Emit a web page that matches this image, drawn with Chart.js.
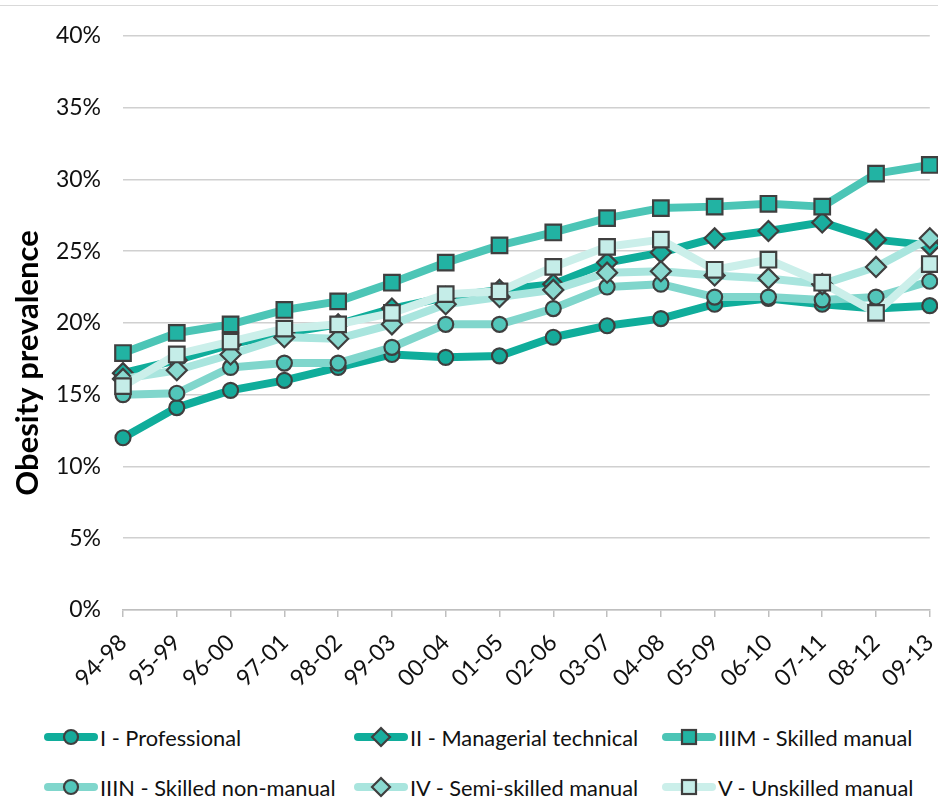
<!DOCTYPE html>
<html>
<head>
<meta charset="utf-8">
<script src="https://cdn.jsdelivr.net/npm/chart.js@4"></script>
<style>
  html, body { margin: 0; padding: 0; background: #fff; }
  #wrap { position: relative; width: 938px; height: 800px; overflow: hidden; }
  #top { position: absolute; left: 0; top: 5px; width: 938px; height: 1px; background: #d9d9d9; }
  #c { position: absolute; left: 0; top: 0; }
  .lg { position: absolute; height: 30px; display: flex; align-items: center; font-family: Lato, sans-serif; font-size: 21.8px; color: #111; white-space: nowrap; }
  .lg svg { margin-right: 2px; }
</style>
</head>
<body>
<div id="wrap">
  <canvas id="c" width="943" height="700"></canvas>
  <div id="top"></div>
  <div id="legend"></div>
</div>
<script>
const categories = ["94-98","95-99","96-00","97-01","98-02","99-03","00-04","01-05","02-06","03-07","04-08","05-09","06-10","07-11","08-12","09-13"];
const seriesNames = ["I - Professional","II - Managerial technical","IIIM - Skilled manual","IIIN - Skilled non-manual","IV - Semi-skilled manual","V - Unskilled manual"];
const professional  = [12.0,14.1,15.3,16.0,16.9,17.8,17.6,17.7,19.0,19.8,20.3,21.3,21.7,21.3,21.0,21.2];
const managerial    = [16.5,17.4,18.5,19.3,19.9,21.0,21.8,22.3,22.7,24.2,24.9,25.9,26.4,27.0,25.8,25.4];
const skilledManual = [17.9,19.3,19.9,20.9,21.5,22.8,24.2,25.4,26.3,27.3,28.0,28.1,28.3,28.1,30.4,31.0];
const skilledNonMan = [15.0,15.1,16.9,17.2,17.2,18.3,19.9,19.9,21.0,22.5,22.7,21.8,21.8,21.6,21.8,22.9];
const semiSkilled   = [16.1,16.7,17.8,19.0,18.9,19.9,21.3,21.8,22.3,23.5,23.6,23.3,23.1,22.7,23.9,25.9];
const unskilled     = [15.6,17.8,18.7,19.6,19.9,20.7,22.0,22.2,23.9,25.3,25.8,23.7,24.4,22.8,20.7,24.1];
const yTicks = [0,5,10,15,20,25,30,35,40];
const yTitle = "Obesity prevalence";

const values = [professional, managerial, skilledManual, skilledNonMan, semiSkilled, unskilled];
const lineColors = ["#10ad9b","#10ad9b","#4cc5b6","#80d6cc","#a9e5de","#cbefea"];
const fillColors = ["#16aa9a","#1aae9e","#22b3a3","#52c6ba","#8ad9d0","#c5ede8"];
const shapes = ["circle","rectRot","rect","circle","rectRot","rect"];
const radii = [7.5,10,11,7.5,10,11];

const datasets = values.map((v, i) => ({
  label: seriesNames[i],
  data: v,
  borderColor: lineColors[i],
  borderWidth: 8,
  pointStyle: shapes[i],
  pointRadius: radii[i],
  pointBackgroundColor: fillColors[i],
  pointBorderColor: "#3f3f3f",
  pointBorderWidth: 2.2,
  tension: 0,
  order: 6 - i,
  borderCapStyle: 'round',
  borderJoinStyle: 'round'
}));

const titlePlugin = {
  id: 'ytitle',
  afterDraw(chart) {
    const ctx = chart.ctx;
    ctx.save();
    ctx.translate(28, 363);
    ctx.rotate(-Math.PI / 2);
    ctx.font = 'bold 31px Lato';
    ctx.fillStyle = '#000';
    ctx.textAlign = 'center';
    ctx.textBaseline = 'middle';
    ctx.fillText(yTitle, 0, 0);
    ctx.restore();
  }
};

new Chart(document.getElementById('c'), {
  type: 'line',
  data: { labels: categories, datasets },
  plugins: [titlePlugin],
  options: {
    responsive: false,
    animation: false,
    layout: { padding: { top: 24, right: 3, left: 0, bottom: 0 } },
    plugins: { legend: { display: false }, tooltip: { enabled: false } },
    scales: {
      x: {
        offset: false,
        grid: { drawOnChartArea: false, drawTicks: true, tickLength: 7, color: '#bfbfbf', lineWidth: 1.5 },
        border: { display: true, color: '#bfbfbf', width: 1.5 },
        ticks: { minRotation: 45, maxRotation: 45, color: '#111', font: { family: 'Lato', size: 23 }, padding: 12, autoSkip: false },
        afterFit: s => { s.height = 90; s.paddingRight = 0; s.paddingLeft = 0; }
      },
      y: {
        min: 0, max: 40,
        afterBuildTicks: s => { s.ticks = yTicks.map(v => ({ value: v })); },
        grid: { color: '#d0d0d0', lineWidth: 1.5, drawTicks: false },
        border: { display: false },
        ticks: { color: '#111', font: { family: 'Lato', size: 23 }, padding: 22, callback: v => v + '%' },
        afterFit: s => { s.width = 123; }
      }
    }
  }
});

// HTML legend
const pos = [[44,722],[354,722],[662,722],[44,772],[354,772],[662,772]];
const lg = document.getElementById('legend');
seriesNames.forEach((name, i) => {
  const d = document.createElement('div');
  d.className = 'lg';
  d.style.left = pos[i][0] + 'px';
  d.style.top = pos[i][1] + 'px';
  let marker;
  const cx = 27, cy = 15;
  if (shapes[i] === 'circle') marker = `<circle cx="${cx}" cy="${cy}" r="7" fill="${fillColors[i]}" stroke="#3f3f3f" stroke-width="2.2"/>`;
  else if (shapes[i] === 'rectRot') marker = `<polygon points="${cx},${cy-9} ${cx+9},${cy} ${cx},${cy+9} ${cx-9},${cy}" fill="${fillColors[i]}" stroke="#3f3f3f" stroke-width="2.2"/>`;
  else marker = `<rect x="${cx-7}" y="${cy-7}" width="14" height="14" fill="${fillColors[i]}" stroke="#3f3f3f" stroke-width="2.2"/>`;
  d.innerHTML = `<svg width="54" height="30"><line x1="4" y1="${cy}" x2="50" y2="${cy}" stroke="${lineColors[i]}" stroke-width="8" stroke-linecap="round"/>${marker}</svg><span>${name}</span>`;
  lg.appendChild(d);
});
</script>
</body>
</html>
